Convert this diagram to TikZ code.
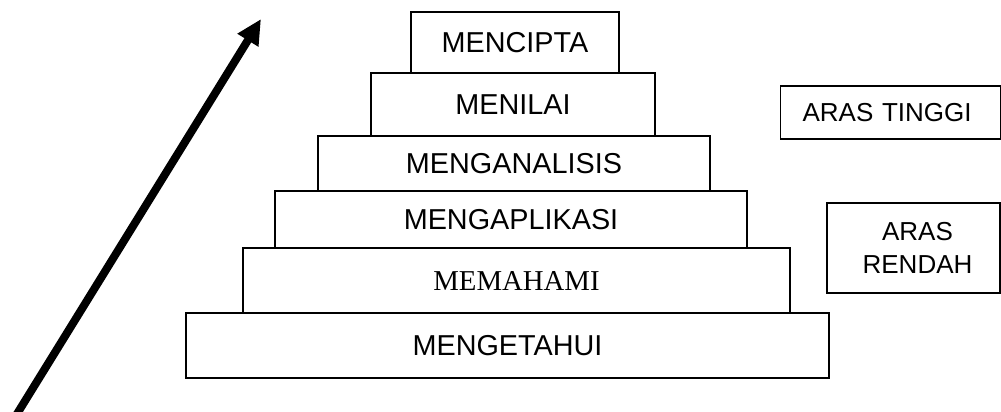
\documentclass[tikz,border=0pt]{standalone}
\usepackage{fontspec}
\setmainfont{Liberation Sans}
\newfontfamily\timesfont{Liberation Serif}
\usetikzlibrary{arrows.meta}

\begin{document}
\begin{tikzpicture}[x=0.5pt,y=-0.5pt,line width=0.6pt,draw=black]
    \tikzstyle{level}=[rectangle,draw,inner sep=0pt,font=\fontsize{14.4}{17}\selectfont]
    \tikzstyle{aras}=[rectangle,draw,inner sep=0pt,font=\fontsize{13}{16.7}\selectfont]
    \tikzstyle{big arrow}=[-{Triangle[length=12.5pt,width=11.5pt]},line width=4pt]

    \useasboundingbox (0,0) rectangle (1001,412);

    % Draw the pyramid levels, from the top down
    \node[level,minimum width=104pt,minimum height=30.5pt] (L-6) at (515,42.5) {MENCIPTA};
    \node[level,minimum width=142pt,minimum height=31.5pt] (L-5) at (513,104.5) {MENILAI};
    \node[level,minimum width=196pt,minimum height=27.5pt] (L-4) at (514,163.5) {MENGANALISIS};
    \node[level,minimum width=236pt,minimum height=28.5pt] (L-3) at (511,219.5) {MENGAPLIKASI};
    \node[level,minimum width=273.5pt,minimum height=32.5pt,font=\fontsize{14.4}{17}\timesfont] (L-2) at (516.5,280.5) {MEMAHAMI};
    \node[level,minimum width=321.5pt,minimum height=32.5pt] (L-1) at (507.5,345.5) {MENGETAHUI};

    % Draw the two level boxes on the right
    \node[aras,anchor=west,minimum height=26.5pt,inner xsep=11pt,text width=88pt,align=left] (high) at (780,112.5) {ARAS TINGGI};
    \node[aras,minimum width=86.5pt,minimum height=45pt,align=center] (low) at (913.5,248) {\hspace*{4pt}ARAS\\\hspace*{4pt}RENDAH};

    % Draw the rising arrow
    \coordinate (arrow-start) at (12,422);
    \coordinate (arrow-tip) at (261,19);
    \draw[big arrow] (arrow-start) -- (arrow-tip);
\end{tikzpicture}
\end{document}
